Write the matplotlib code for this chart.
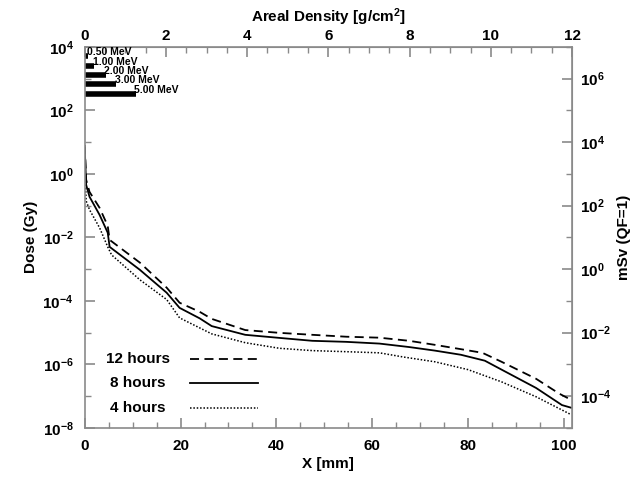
import numpy as np
import matplotlib
matplotlib.use("Agg")
import matplotlib.pyplot as plt
from matplotlib.ticker import FixedLocator, NullFormatter

plt.rcParams['font.family'] = 'Liberation Sans'
plt.rcParams['font.weight'] = 'bold'
plt.rcParams['axes.labelweight'] = 'bold'
plt.rcParams['mathtext.fontset'] = 'custom'
plt.rcParams['mathtext.bf'] = 'Liberation Sans:bold'
plt.rcParams['mathtext.rm'] = 'Liberation Sans:bold'
plt.rcParams['mathtext.default'] = 'bf'

# depth in mm, dose in Gy
x_12h = [0.0, 0.3, 1.0, 3.1, 4.8, 5.2, 11.5, 17.1, 19.8, 24.0, 26.5, 33.5, 40.6,
         47.5, 54.6, 61.5, 67.7, 73.1, 78.5, 83.0, 87.0, 94.2, 99.0, 101.5]
dose_12h = [8.1, 0.65, 0.27, 0.085, 0.023, 0.0083, 1.6e-3, 2.6e-4, 8.7e-5, 4.5e-5,
            2.7e-5, 1.2e-5, 9.8e-6, 8.5e-6, 7.4e-6, 6.9e-6, 5.5e-6, 4.1e-6, 3.0e-6,
            2.3e-6, 1.2e-6, 3.5e-7, 1.2e-7, 7.6e-8]

x_8h = [0.0, 0.3, 1.0, 3.1, 4.8, 5.2, 11.5, 17.1, 19.8, 24.0, 26.5, 33.5, 40.6,
        47.5, 54.6, 61.5, 67.7, 73.1, 78.5, 83.5, 87.0, 94.2, 99.6, 101.5]
dose_8h = [6.6, 0.45, 0.19, 0.051, 0.014, 0.005, 9.5e-4, 1.8e-4, 6.0e-5, 2.8e-5,
           1.6e-5, 8.5e-6, 6.8e-6, 5.5e-6, 5.1e-6, 4.5e-6, 3.5e-6, 2.7e-6, 2.0e-6,
           1.3e-6, 6.8e-7, 1.8e-7, 5.2e-8, 4.3e-8]

x_4h = [0.0, 0.3, 1.0, 3.1, 4.8, 5.6, 11.5, 17.1, 19.8, 26.5, 33.5, 40.6, 47.5,
        54.6, 61.5, 66.5, 73.1, 80.0, 87.0, 94.2, 101.5]
dose_4h = [2.0, 0.14, 0.074, 0.020, 5.0e-3, 2.8e-3, 4.6e-4, 1.1e-4, 2.9e-5, 9.1e-6,
           4.8e-6, 3.2e-6, 2.7e-6, 2.5e-6, 2.3e-6, 1.7e-6, 1.2e-6, 6.8e-7, 2.8e-7,
           9.5e-8, 2.6e-8]

# electron ranges (mm) shown as bars near the top
mev_labels = ["0.50 MeV", "1.00 MeV", "2.00 MeV", "3.00 MeV", "5.00 MeV"]
mev_range = [0.7, 2.0, 4.4, 6.6, 10.6]
mev_level = [5250, 2450, 1320, 660, 330]

series = [("12 hours", x_12h, dose_12h, (0, (5, 3)), 1.3),
          ("8 hours", x_8h, dose_8h, "-", 1.3),
          ("4 hours", x_4h, dose_4h, (0, (1, 1.2)), 1.1)]

gray = "#8a8a8a"
xmax = 101.7

fig = plt.figure(figsize=(6.37, 4.78), dpi=100)
ax = fig.add_axes([0.133, 0.105, 0.765, 0.797])

for label, xs, ys, ls, lw in series:
    ax.plot(xs, ys, color="black", linestyle=ls, linewidth=lw)

for lab, r, lev in zip(mev_labels, mev_range, mev_level):
    ax.plot([0, r], [lev, lev], color="black", linewidth=4, solid_capstyle="butt")
    ax.annotate(lab, (r, lev), xytext=(-1, 3), textcoords="offset points",
                fontsize=7.5, va="center", ha="left")

# hand-placed legend like the original
for i, (label, xs, ys, ls, lw) in enumerate(series):
    yy = 0.181 - i * 0.0645
    ax.text(0.109, yy, label, transform=ax.transAxes, ha="center", va="center",
            fontsize=11, fontweight="bold")
    ax.plot([0.216, 0.355], [yy, yy], transform=ax.transAxes, color="black",
            linestyle=ls, linewidth=lw)

ax.set_yscale("log")
ax.set_xlim(0, xmax)
ax.set_ylim(1e-8, 1e4)
ax.yaxis.set_major_locator(FixedLocator([10.0 ** k for k in range(-8, 5, 2)]))
ax.yaxis.set_minor_locator(FixedLocator([10.0 ** k for k in range(-7, 4, 2)]))
ax.yaxis.set_minor_formatter(NullFormatter())
ax.xaxis.set_major_locator(FixedLocator([0, 20, 40, 60, 80, 100]))
ax.xaxis.set_minor_locator(FixedLocator(np.arange(5, 101, 5)))

ax.set_xlabel("X [mm]", fontsize=11, labelpad=3)
ax.set_ylabel("Dose (Gy)", fontsize=11, labelpad=3)

for s in ax.spines.values():
    s.set_color(gray)
    s.set_linewidth(1.2)
ax.tick_params(which="both", direction="in", color=gray, labelsize=11)
ax.tick_params(which="major", length=7, width=1.2)
ax.tick_params(which="minor", length=4, width=1.0)
ax.tick_params(axis="x", pad=8)
ax.tick_params(axis="y", pad=8)
for t in ax.get_xticklabels() + ax.get_yticklabels():
    t.set_fontweight("bold")

top = ax.secondary_xaxis("top", functions=(lambda x: x * 12 / xmax, lambda a: a * xmax / 12))
top.xaxis.set_major_locator(FixedLocator([0, 2, 4, 6, 8, 10, 12]))
top.xaxis.set_minor_locator(FixedLocator(np.arange(0.5, 12, 0.5)))
top.tick_params(which="both", direction="in", color=gray, labelsize=11, pad=3)
top.tick_params(which="major", length=7, width=1.2)
top.tick_params(which="minor", length=4, width=1.0)
top.set_xlabel("Areal Density [g/cm$^2$]", fontsize=11, labelpad=5)
top.spines["top"].set_color(gray)
for t in top.get_xticklabels():
    t.set_fontweight("bold")

right = ax.secondary_yaxis("right", functions=(lambda y: y * 1e3, lambda y: y / 1e3))
right.yaxis.set_major_locator(FixedLocator([10.0 ** k for k in range(-4, 7, 2)]))
right.yaxis.set_minor_locator(FixedLocator([10.0 ** k for k in range(-5, 8, 2)]))
right.yaxis.set_minor_formatter(NullFormatter())
right.tick_params(which="both", direction="in", color=gray, labelsize=11, pad=6)
right.tick_params(which="major", length=7, width=1.2)
right.tick_params(which="minor", length=4, width=1.0)
right.set_ylabel("mSv (QF=1)", fontsize=11, labelpad=4)
right.spines["right"].set_color(gray)

fig.savefig("out.png", dpi=100)
